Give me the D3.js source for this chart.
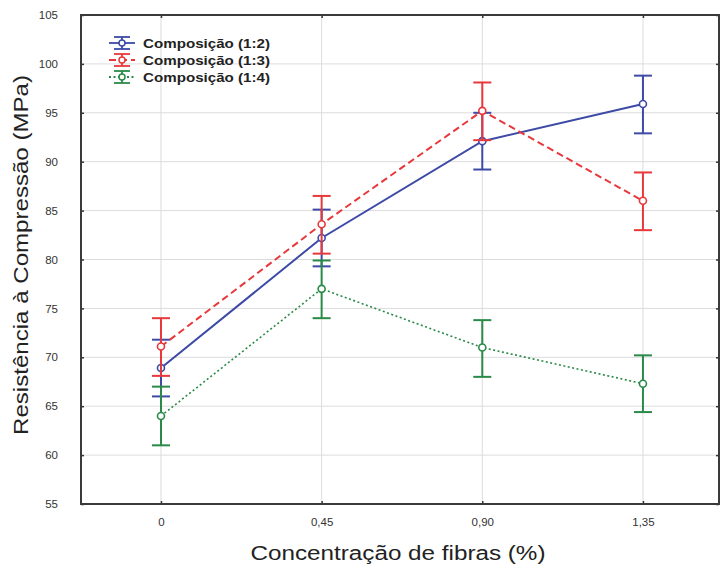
<!DOCTYPE html>
<html><head><meta charset="utf-8">
<script src="https://cdn.jsdelivr.net/npm/d3@7"></script>
<style>body{margin:0;background:#fff}svg{display:block}text{font-family:Arial,"Liberation Sans",sans-serif}</style>
</head><body>
<svg id="c" width="723" height="577"></svg>
<script>
const xValues = [0, 0.45, 0.90, 1.35];
const xLabels = ["0", "0,45", "0,90", "1,35"];
const yTicks = [55, 60, 65, 70, 75, 80, 85, 90, 95, 100, 105];
const seriesNames = ["Composição (1:2)", "Composição (1:3)", "Composição (1:4)"];
const mean12 = [68.9, 82.2, 92.1, 95.9];
const low12 = [66.0, 79.3, 89.2, 92.9];
const high12 = [71.8, 85.1, 95.0, 98.8];
const mean13 = [71.1, 83.6, 95.2, 86.0];
const low13 = [68.1, 80.6, 92.2, 83.0];
const high13 = [74.0, 86.5, 98.1, 88.9];
const mean14 = [64.0, 77.0, 71.0, 67.3];
const low14 = [61.0, 74.0, 68.0, 64.4];
const high14 = [67.0, 79.9, 73.8, 70.2];

const colors = ["#3d4aa6", "#e8383b", "#2a8a48"];
const dashes = [null, "7,4", "2,2.5"];
const widths = [2, 2, 1.6];
const series = [
  {name: seriesNames[0], mean: mean12, low: low12, high: high12},
  {name: seriesNames[1], mean: mean13, low: low13, high: high13},
  {name: seriesNames[2], mean: mean14, low: low14, high: high14}
];

const L = 81, R = 719, T = 15, B = 504;
const svg = d3.select("#c");
const x = d3.scaleLinear().domain([-0.224, 1.563]).range([L, R]);
const y = d3.scaleLinear().domain([55, 105]).range([B, T]);

// grid
svg.append("g").selectAll("line").data(yTicks.slice(1, -1)).join("line")
  .attr("x1", L).attr("x2", R).attr("y1", d => y(d)).attr("y2", d => y(d))
  .attr("stroke", "#dcdcdc").attr("stroke-width", 1);
svg.append("g").selectAll("line").data(xValues).join("line")
  .attr("x1", d => x(d)).attr("x2", d => x(d)).attr("y1", T).attr("y2", B)
  .attr("stroke", "#dcdcdc").attr("stroke-width", 1);

// axes
const yAxis = d3.axisLeft(y).tickValues(yTicks).tickSize(-3).tickPadding(23);
const gy = svg.append("g").attr("transform", `translate(${L},0)`).call(yAxis);
const xAxis = d3.axisBottom(x).tickValues(xValues).tickFormat((d, i) => xLabels[i]).tickSize(-3).tickPadding(14);
const gx = svg.append("g").attr("transform", `translate(0,${B})`).call(xAxis);
svg.append("g").attr("transform", `translate(0,${T})`).call(d3.axisTop(x).tickValues(xValues).tickFormat("").tickSize(-3));
svg.append("g").attr("transform", `translate(${R},0)`).call(d3.axisRight(y).tickValues(yTicks).tickFormat("").tickSize(-3));
svg.selectAll(".domain").remove();
svg.selectAll(".tick line").attr("stroke", "#333").attr("stroke-width", 1.5);
svg.selectAll(".tick text").attr("font-size", 11.5).attr("fill", "#333").attr("font-family", "Arial, 'Liberation Sans', sans-serif");

// frame
svg.append("rect").attr("x", L).attr("y", T).attr("width", R - L).attr("height", B - T)
  .attr("fill", "none").attr("stroke", "#3a3a3a").attr("stroke-width", 2);

// series
const capW = 9;
series.forEach((s, k) => {
  const g = svg.append("g");
  const pts = xValues.map((v, i) => [x(v), y(s.mean[i])]);
  g.append("path").attr("d", d3.line()(pts)).attr("fill", "none")
    .attr("stroke", colors[k]).attr("stroke-width", widths[k]).attr("stroke-dasharray", dashes[k]);
  xValues.forEach((v, i) => {
    const cx = x(v);
    g.append("line").attr("x1", cx).attr("x2", cx).attr("y1", y(s.low[i])).attr("y2", y(s.high[i]))
      .attr("stroke", colors[k]).attr("stroke-width", 2);
    [s.low[i], s.high[i]].forEach(val => {
      g.append("line").attr("x1", cx - capW).attr("x2", cx + capW).attr("y1", y(val)).attr("y2", y(val))
        .attr("stroke", colors[k]).attr("stroke-width", 2);
    });
  });
  g.selectAll("circle").data(pts).join("circle").attr("cx", d => d[0]).attr("cy", d => d[1]).attr("r", 3.5)
    .attr("fill", "#fff").attr("stroke", colors[k]).attr("stroke-width", 1.6);
});

// legend
series.forEach((s, k) => {
  const ly = 43 + k * 17, lx = 122;
  const g = svg.append("g");
  g.append("line").attr("x1", lx - 13).attr("x2", lx + 13).attr("y1", ly).attr("y2", ly)
    .attr("stroke", colors[k]).attr("stroke-width", 1.8).attr("stroke-dasharray", dashes[k]);
  g.append("line").attr("x1", lx).attr("x2", lx).attr("y1", ly - 6).attr("y2", ly + 6)
    .attr("stroke", colors[k]).attr("stroke-width", 1.8);
  [ly - 6, ly + 6].forEach(yy => g.append("line").attr("x1", lx - 8).attr("x2", lx + 8).attr("y1", yy).attr("y2", yy)
    .attr("stroke", colors[k]).attr("stroke-width", 1.8));
  g.append("circle").attr("cx", lx).attr("cy", ly).attr("r", 3).attr("fill", "#fff").attr("stroke", colors[k]).attr("stroke-width", 1.5);
  g.append("text").attr("x", 143).attr("y", ly + 4.5).attr("font-size", 13).attr("font-weight", "bold").attr("fill", "#222")
    .attr("textLength", 127).attr("lengthAdjust", "spacingAndGlyphs").text(s.name);
});

// titles
svg.append("text").attr("x", 398).attr("y", 560).attr("text-anchor", "middle").attr("font-size", 20).attr("fill", "#222")
  .attr("textLength", 295).attr("lengthAdjust", "spacingAndGlyphs")
  .text("Concentração de fibras (%)");
svg.append("text").attr("transform", "translate(28,255) rotate(-90)").attr("text-anchor", "middle").attr("font-size", 20).attr("fill", "#222")
  .attr("textLength", 360).attr("lengthAdjust", "spacingAndGlyphs")
  .text("Resistência à Compressão (MPa)");
</script>
</body></html>
